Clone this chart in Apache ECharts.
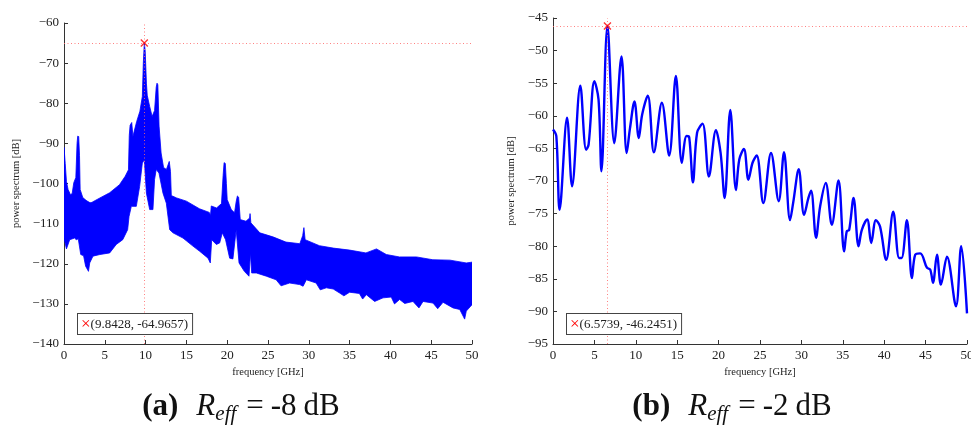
<!DOCTYPE html>
<html>
<head>
<meta charset="utf-8">
<script src="https://cdn.jsdelivr.net/npm/echarts@6/dist/echarts.min.js"></script>
<style>
  html, body { margin: 0; padding: 0; background: #ffffff; }
  #chart { width: 971px; height: 434px; }
</style>
</head>
<body>
<div id="chart"></div>
<script>
// ---- Panel (a): dense spectrum, drawn as the band between its upper and lower edge [GHz, dB]
const upperA = [
  [0, -91.0], [0.15, -95], [0.3, -99.5], [0.5, -101.5], [0.8, -102.8], [1.0, -102.5], [1.2, -99.8],
  [1.45, -98.5], [1.6, -90], [1.68, -88.2], [1.8, -88.3], [1.9, -93], [1.98, -101.5], [2.3, -103.5],
  [2.7, -104.2], [3.1, -104.7], [3.3, -104.8], [3.5, -104.6], [4.4, -103.6], [5.6, -102.3], [6.8, -100.3],
  [7.5, -98.2], [7.9, -96.6], [8.0, -88], [8.1, -85.5], [8.3, -84.8], [8.45, -88.3], [8.6, -87],
  [8.9, -84.6], [9.3, -82], [9.6, -78.3], [9.72, -70], [9.8428, -64.9657], [9.95, -67], [10.1, -75],
  [10.2, -78], [10.5, -80.8], [10.8, -83.3], [11.1, -81.8], [11.3, -76], [11.4, -75], [11.5, -75.4],
  [11.65, -85.7], [11.9, -92.4], [12.2, -96], [12.55, -96.5], [12.9, -94.5], [13.05, -97], [13.15, -103],
  [13.8, -103.6], [15, -104.4], [16.6, -106.3], [17.8, -107.2], [17.95, -108], [18.05, -105.6],
  [18.7, -106.1], [19.3, -105], [19.5, -98], [19.62, -94.8], [19.77, -95], [19.9, -100], [20.0, -104],
  [20.5, -106.5], [20.9, -107.3], [21.1, -104.5], [21.25, -103.1], [21.4, -103.4], [21.6, -109],
  [22.3, -109.4], [22.75, -108.6], [22.8, -107.5], [22.9, -109.8], [24, -112.3], [25.6, -113.3],
  [27.2, -114.6], [28.9, -115], [29.25, -113], [29.4, -111], [29.55, -114], [31.3, -115.5], [33, -116.1],
  [35, -116.6], [37, -117.3], [38.3, -116.3], [39.5, -117.7], [41.1, -118.3], [43.2, -118.3],
  [45.2, -119], [47.3, -119.1], [49.3, -119.8], [50, -119.6]
];
const lowerA = [
  [0, -113.6], [0.3, -116.3], [0.7, -114], [1.3, -113.6], [1.5, -114], [1.75, -113.8],
  [2.05, -117.7], [2.4, -118], [2.65, -120.6], [3.0, -121.9], [3.15, -119.8], [3.55, -118.1],
  [4.4, -117.7], [5.6, -117.3], [6.4, -115.2], [7.2, -114], [7.8, -111.5], [7.97, -108.2], [8.25, -105.7],
  [8.86, -105.7], [9.27, -100.7], [9.6, -94.9], [9.84, -94.1], [10.1, -102.4], [10.5, -106.5],
  [10.9, -106.5], [11.1, -99], [11.3, -96.5], [11.64, -97.4], [12.13, -102.4], [12.54, -104.9],
  [12.95, -111.5], [13.36, -112.3], [14.58, -113.6], [15.8, -115.6], [16.63, -116.9], [17.65, -118.6],
  [17.93, -119.8], [18.1, -114], [18.67, -115.2], [19.08, -114.8], [19.4, -112.3], [19.8, -114],
  [20.3, -118.6], [20.7, -118.8], [21.1, -111.5], [21.45, -119.8], [22.1, -121.9], [22.67, -123.1],
  [22.85, -117.3], [23.0, -122.3], [23.57, -122.3], [24.8, -123.1], [26, -124], [26.6, -125.5],
  [27.65, -124.8], [28.9, -125.2], [29.3, -125.6], [29.7, -124], [30.9, -124.8], [31.4, -126.5],
  [32.15, -126], [33, -126.3], [33.78, -127.3], [34.3, -128], [35, -127.1], [36.2, -127.4],
  [36.6, -128.8], [37.05, -127.7], [38.07, -129.4], [39.1, -128.5], [40.1, -128.3], [40.5, -130],
  [41.13, -128.9], [41.75, -129.9], [42.77, -129.4], [43.5, -131], [44, -129.4], [45.22, -129.8],
  [45.8, -131.2], [46.45, -129.6], [47.67, -131], [48.5, -131.4], [49.1, -133.8], [49.3, -131.8],
  [50, -130.2]
];
const peakA = [9.8428, -64.9657];

// ---- Panel (b): smoothed spectrum [GHz, dB]
const spectrumB = [
  [0, -62.1], [0.4, -63.1], [0.8, -74.4], [1.7, -60.3], [2.3, -70.8], [3.3, -55.4], [4.0, -65.2],
  [4.3, -64.4], [5.0, -54.7], [5.5, -57.5], [5.85, -68.5], [6.5739, -46.2451], [7.4, -64.2],
  [8.27, -50.9], [8.9, -65.7], [9.3, -61.9], [9.84, -57.8], [10.36, -63.4], [10.77, -59.8],
  [11.45, -56.9], [12.18, -65.6], [13.15, -58.0], [14.03, -66.1], [14.84, -53.9], [15.56, -67.2],
  [16.13, -63.1], [16.45, -63.3], [16.9, -70.2], [17.4, -62.6], [18.06, -61.2], [18.83, -69.3],
  [19.68, -62.2], [20.24, -65.7], [20.73, -72.6], [21.41, -59.1], [22.1, -71.4], [22.5, -66.7],
  [23.06, -65.1], [23.6, -69.8], [24.1, -67.2], [24.6, -66.1], [25.4, -73.4], [26.33, -65.7],
  [27.26, -73.1], [27.9, -65.6], [28.63, -76.0], [29.0, -73.4], [29.68, -68.2], [30.32, -75.2],
  [30.85, -72.6], [31.17, -71.5], [31.77, -78.7], [32.26, -73.9], [32.94, -70.3], [33.67, -76.7],
  [34.48, -69.9], [35.16, -80.8], [35.48, -77.7], [35.77, -77.5], [36.3, -72.6], [36.9, -80.0],
  [37.3, -77.5], [37.94, -75.9], [38.43, -79.5], [39.0, -76.0], [39.5, -77.0], [40.24, -82.1],
  [41.09, -74.7], [41.8, -81.8], [42.1, -81.8], [42.74, -76.0], [43.35, -84.9], [43.75, -81.3],
  [44.35, -81.1], [45.16, -83.3], [45.56, -83.6], [45.89, -85.6], [46.37, -81.3], [46.85, -85.9],
  [47.58, -81.6], [48.67, -89.2], [49.3, -80.0], [50, -90.3]
];
const peakB = [6.5739, -46.2451];

// ---- Axis ranges / tick spacing
const freqRange = [0, 50, 5];
const powRangeA = [-140, -60, 10];
const powRangeB = [-95, -45, 5];

const SERIF = '"Liberation Serif", "DejaVu Serif", serif';
const INK = '#222';
const BLUE = '#0000ff';
const RED = '#ff0000';
const minus = v => String(v).replace('-', '\u2212');

function xAxisFor(gridIndex) {
  return {
    type: 'value', gridIndex,
    min: freqRange[0], max: freqRange[1], interval: freqRange[2],
    name: 'frequency [GHz]', nameLocation: 'middle', nameGap: 21,
    nameTextStyle: { fontFamily: SERIF, fontSize: 10.5, color: INK },
    axisLine: { show: true, onZero: false, lineStyle: { color: '#333', width: 1 } },
    axisTick: { show: true, inside: true, length: 4, lineStyle: { color: '#333' } },
    axisLabel: { fontFamily: SERIF, fontSize: 13, color: INK, margin: 5, formatter: minus },
    splitLine: { show: false }
  };
}
function yAxisFor(gridIndex, range, gap) {
  return {
    type: 'value', gridIndex,
    min: range[0], max: range[1], interval: range[2],
    name: 'power spectrum [dB]', nameLocation: 'middle', nameGap: gap,
    nameTextStyle: { fontFamily: SERIF, fontSize: 10.5, color: INK },
    axisLine: { show: true, onZero: false, lineStyle: { color: '#333', width: 1 } },
    axisTick: { show: true, inside: true, length: 4, lineStyle: { color: '#333' } },
    axisLabel: { fontFamily: SERIF, fontSize: 13, color: INK, margin: 5, formatter: minus },
    splitLine: { show: false }
  };
}

// red cross marking a peak, with dotted guide lines through it
function peakSeries(idx, peak) {
  return {
    type: 'scatter', xAxisIndex: idx, yAxisIndex: idx, z: 5,
    data: [peak],
    symbol: 'path://M0,0L10,10M10,0L0,10',
    symbolSize: 7,
    itemStyle: { color: 'rgba(0,0,0,0)', borderColor: RED, borderWidth: 1.4 },
    markLine: {
      silent: true, symbol: 'none', animation: false,
      label: { show: false },
      lineStyle: { color: '#ff6b6b', width: 1, type: [1, 2.5], opacity: 0.85 },
      data: [{ xAxis: peak[0] }, { yAxis: peak[1] }]
    }
  };
}

function peakBox(left, peak) {
  return {
    type: 'text', left, top: 313, z: 100,
    style: {
      text: '{m|\u00d7}(' + peak[0] + ', ' + peak[1] + ')',
      font: '13px ' + SERIF, fill: INK,
      rich: { m: { fill: RED, fontSize: 17, fontFamily: SERIF, lineHeight: 15 } },
      backgroundColor: '#ffffff', borderColor: '#444', borderWidth: 1,
      padding: [3, 4, 2, 3]
    }
  };
}

// sub-figure caption, centred under its panel
function caption(cx, tag, value) {
  const big = { fontFamily: SERIF, fontSize: 31, fill: '#111', lineHeight: 36, verticalAlign: 'middle' };
  return {
    type: 'text', x: cx, y: 389, z: 100,
    style: {
      text: '{b|' + tag + '}{g| }{i|R}{s|eff}{h| }{n|=}{t|\u2009}{n|' + value + '}{t|\u2009}{n|dB}',
      align: 'center', verticalAlign: 'top',
      rich: {
        b: Object.assign({}, big, { fontWeight: 'bold' }),
        i: Object.assign({}, big, { fontStyle: 'italic' }),
        s: { fontFamily: SERIF, fontSize: 21, fontStyle: 'italic', fill: '#111', lineHeight: 21, verticalAlign: 'bottom' },
        n: big,
        g: Object.assign({}, big, { width: 18 }),
        h: Object.assign({}, big, { width: 10 }),
        t: Object.assign({}, big, { width: 7 })
      }
    }
  };
}

const chart = echarts.init(document.getElementById('chart'), null, { renderer: 'canvas' });
chart.setOption({
  animation: false,
  backgroundColor: '#ffffff',
  grid: [
    { left: 64, top: 23, width: 408, height: 321, outerBoundsMode: 'none', containLabel: false },
    { left: 553, top: 18, width: 414, height: 326, outerBoundsMode: 'none', containLabel: false }
  ],
  xAxis: [xAxisFor(0), xAxisFor(1)],
  yAxis: [yAxisFor(0, powRangeA, 42), yAxisFor(1, powRangeB, 36)],
  series: [
    {
      type: 'custom', xAxisIndex: 0, yAxisIndex: 0, clip: true,
      data: [upperA[0]],
      renderItem: (params, api) => {
        const pts = upperA.map(p => api.coord(p))
          .concat(lowerA.slice().reverse().map(p => api.coord(p)));
        return {
          type: 'polygon',
          shape: { points: pts },
          style: { fill: BLUE, stroke: BLUE, lineWidth: 0.8 }
        };
      }
    },
    peakSeries(0, peakA),
    {
      type: 'line', xAxisIndex: 1, yAxisIndex: 1,
      data: spectrumB, smooth: 0.35, showSymbol: false,
      lineStyle: { color: BLUE, width: 2.4 }
    },
    peakSeries(1, peakB)
  ],
  graphic: [
    peakBox(77, peakA),
    peakBox(566, peakB),
    caption(241, '(a)', '-8'),
    caption(732, '(b)', '-2')
  ]
});
</script>
</body>
</html>
